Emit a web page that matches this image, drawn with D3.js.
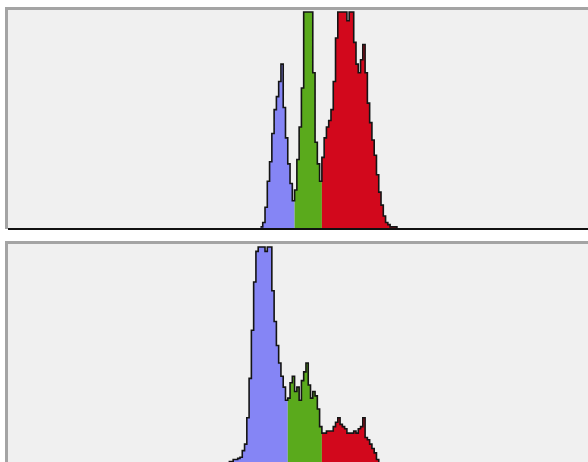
<!DOCTYPE html>
<html>
<head>
<meta charset="utf-8">
<script src="https://cdn.jsdelivr.net/npm/d3@7"></script>
<style>
  body { margin: 0; background: #fff; }
</style>
</head>
<body>
<div id="my_dataviz"></div>
<script>
// DATA ===========================================================================================
// histogram counts per intensity bin (0-255), in % of panel height
const topBlueStart = 111
const topBlue = [1, 3, 10, 22, 31, 44, 55, 61, 68, 76, 56, 42, 30, 21, 13]
const topGreenStart = 126
const topGreen = [18, 32, 47, 65, 120, 120, 120, 120, 72, 40, 30, 22]
const topRedStart = 138
const topRed = [33, 42, 47, 50, 55, 68, 88, 104, 110, 105, 102, 96, 108, 100, 86, 76, 72, 78, 85, 72,
                58, 49, 41, 34, 25, 17, 11, 6, 3, 2, 1, 1, 1, 0]

const botBlueStart = 97
const botBlue = [2, 2, 3, 3, 3.5, 4, 7, 10, 22, 40, 62, 84, 98, 104, 106, 104, 98, 104, 102, 80,
                 66, 55, 47, 41, 36, 30]
const botGreenStart = 123
const botGreen = [31, 38, 41, 34, 36, 30, 39, 43, 47, 37, 31, 34, 32, 26, 18]
const botRedStart = 138
const botRed = [15, 15, 16, 16, 16, 18, 20, 22, 19, 18, 17, 15, 15, 15, 16, 15, 17, 18, 22, 13,
                12, 10, 8, 6, 3, 1, 0]

// SET UP =========================================================================================
width = 588
height = 462
left = 8

const panels = [
  {top: 10, base: 229, peak: 12, series: [
    {start: topBlueStart, values: topBlue, color: '#8585f5'},
    {start: topGreenStart, values: topGreen, color: '#5aaa1c'},
    {start: topRedStart, values: topRed, color: '#d2081c'}]},
  {top: 244, base: 466, peak: 247, series: [
    {start: botBlueStart, values: botBlue, color: '#8585f5'},
    {start: botGreenStart, values: botGreen, color: '#5aaa1c'},
    {start: botRedStart, values: botRed, color: '#d2081c'}]}
]

const svg = d3.select('#my_dataviz')
  .append('svg')
  .attr('width', width)
  .attr('height', height)

const x = d3.scaleLinear()
  .domain([0, 255])
  .range([left, width])

// MARKS ==========================================================================================
panels.forEach(p => {
  const y = d3.scaleLinear()
    .domain([0, 100])
    .range([p.base, p.peak])
    .clamp(true)

  const g = svg.append('g')

  // background and frame
  g.append('rect')
    .attr('x', left).attr('y', p.top)
    .attr('width', width - left).attr('height', Math.min(p.base, height) - p.top)
    .attr('fill', '#f0f0f0')
  g.append('rect')
    .attr('x', 5).attr('y', p.top - 3)
    .attr('width', width - 5).attr('height', 3)
    .attr('fill', '#a4a4a4')
  g.append('rect')
    .attr('x', 5).attr('y', p.top - 3)
    .attr('width', 3).attr('height', Math.min(p.base, height) - p.top + 3)
    .attr('fill', '#a4a4a4')

  const allPts = []
  p.series.forEach(s => {
    const pts = s.values.map((v, i) => ({b: s.start + i, v: v}))
    pts.push({b: s.start + s.values.length, v: s.values[s.values.length - 1]})
    allPts.push(...pts.slice(0, -1))

    g.append('path')
      .datum(pts)
      .attr('fill', s.color)
      .attr('d', d3.area()
        .curve(d3.curveStepAfter)
        .x(d => x(d.b))
        .y0(y(0))
        .y1(d => y(d.v))
      )
  })
  const last = p.series[p.series.length - 1]
  allPts.push({b: last.start + last.values.length, v: 0})

  // outline along the top of the histogram
  g.append('path')
    .datum(allPts)
    .attr('fill', 'none')
    .attr('stroke', '#141414')
    .attr('stroke-width', 1.6)
    .attr('d', d3.line()
      .curve(d3.curveStepAfter)
      .x(d => x(d.b))
      .y(d => y(d.v))
    )

  // baseline
  g.append('line')
    .attr('x1', left).attr('x2', width)
    .attr('y1', y(0)).attr('y2', y(0))
    .attr('stroke', '#111')
    .attr('stroke-width', 2)
})
</script>
</body>
</html>
